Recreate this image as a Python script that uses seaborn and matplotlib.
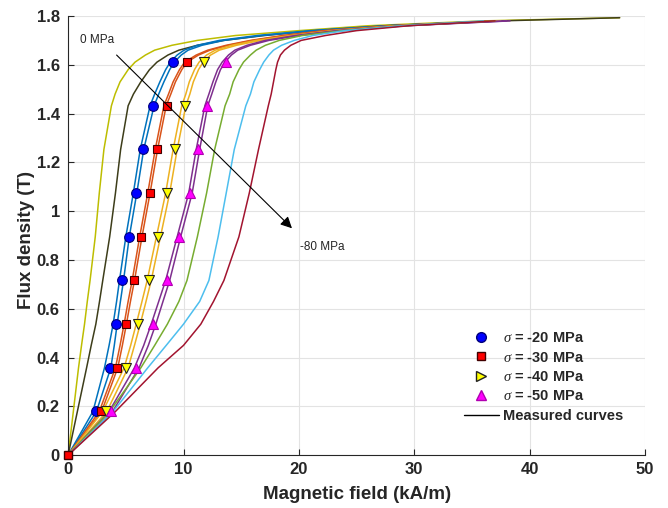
import matplotlib
matplotlib.use("Agg")
import matplotlib.pyplot as plt
import seaborn as sns
import pandas as pd
from matplotlib.lines import Line2D
from matplotlib.ticker import FormatStrFormatter

# ---------------- data ----------------
# flux density grid (T) for the measured curves
B_grid = [0, 0.179, 0.358, 0.45, 0.537, 0.63, 0.716, 0.895, 1.074, 1.253, 1.432, 1.48,
          1.53, 1.58, 1.611, 1.64, 1.66, 1.68, 1.70, 1.72, 1.74, 1.76, 1.78]
B_grid_long = B_grid + [1.793]

# magnetic field (kA/m) of the measured curves, 0 MPa ... -80 MPa
H_0MPa = [0, 0.45, 0.9, 1.16, 1.42, 1.66, 1.9, 2.35, 2.7, 3.1, 3.75, 4.07, 4.5, 5.2,
          5.8, 6.7, 7.5, 9.0, 11.2, 14.5, 20, 26, 36, 47.8]
H_m10 = [0, 0.8, 1.6, 2.0, 2.4, 2.72, 3.0, 3.6, 4.1, 4.55, 5.2, 5.66, 6.3, 7.05,
         7.7, 8.65, 9.6, 11.2, 13.5, 17, 21.5, 27.5, 37.5, 47.8]
H_m20a = [0, 2.15, 3.15, 3.55, 3.9, 4.2, 4.45, 5.0, 5.65, 6.25, 7.1, 7.5, 7.95, 8.45,
          8.85, 9.45, 10.05, 11.2, 13.1, 16.4, 21, 27.5, 37]
H_m20b = [0, 2.45, 3.7, 4.0, 4.25, 4.53, 4.8, 5.3, 5.95, 6.55, 7.45, 7.85, 8.3, 8.8,
          9.2, 9.8, 10.4, 11.6, 13.5, 16.8, 21.5, 28, 37.5]
H_m30a = [0, 2.7, 4.1, 4.5, 4.85, 5.2, 5.55, 6.2, 6.9, 7.55, 8.3, 8.7, 9.1, 9.65,
          10.1, 11.1, 12.1, 13.7, 15.8, 18.6, 22.2, 28, 37]
H_m30b = [0, 2.9, 4.3, 4.7, 5.05, 5.4, 5.75, 6.4, 7.1, 7.75, 8.5, 8.9, 9.3, 9.85,
          10.3, 11.3, 12.3, 13.9, 16.0, 18.8, 22.5, 28.3, 37.3]
H_m40a = [0, 3.0, 4.85, 5.42, 5.9, 6.4, 6.85, 7.65, 8.45, 9.1, 9.85, 10.2, 10.5, 10.95,
          11.35, 12.0, 12.75, 14.2, 16.3, 19.3, 23.0, 28.5, 37]
H_m40b = [0, 3.35, 5.2, 5.75, 6.25, 6.75, 7.2, 8.0, 8.8, 9.45, 10.2, 10.55, 10.85, 11.3,
          11.7, 12.35, 13.1, 14.6, 16.7, 19.6, 23.2, 28.8, 37.5]
H_m50a = [0, 3.55, 5.75, 6.55, 7.2, 7.85, 8.45, 9.45, 10.45, 11.1, 11.85, 12.2, 12.55, 12.95,
          13.35, 13.9, 14.45, 15.5, 17.1, 19.7, 23.3, 29, 38]
H_m50b = [0, 3.85, 6.15, 6.95, 7.6, 8.22, 8.8, 9.75, 10.75, 11.4, 12.1, 12.45, 12.8, 13.2,
          13.6, 14.15, 14.7, 15.8, 17.4, 20.0, 23.6, 29.3, 38.3]
H_m60 = [0, 3.6, 6.3, 7.5, 8.6, 9.6, 10.3, 11.2, 12.0, 12.7, 13.6, 14.0, 14.3, 14.8,
         15.2, 15.8, 16.3, 17.1, 18.3, 20.3, 23.8, 29, 37]
H_m70 = [0, 3.9, 6.9, 8.5, 10.0, 11.4, 12.2, 13.0, 13.7, 14.4, 15.4, 15.8, 16.1, 16.6,
         16.95, 17.4, 17.8, 18.5, 19.6, 21.2, 24, 29, 36]
H_m80 = [0, 4.1, 7.8, 10.0, 11.5, 12.6, 13.5, 14.8, 15.7, 16.5, 17.35, 17.6, 17.8, 18.0,
         18.15, 18.4, 18.75, 19.3, 20.2, 22.3, 25.0, 29.5, 37]

# model points (markers)
B_mark = [0.179, 0.358, 0.537, 0.716, 0.895, 1.074, 1.253, 1.432, 1.611]
H_s20 = [2.43, 3.65, 4.17, 4.70, 5.24, 5.91, 6.50, 7.39, 9.13]
H_s30 = [2.84, 4.23, 4.99, 5.71, 6.35, 7.07, 7.71, 8.55, 10.29]
H_s40 = [3.25, 4.99, 6.03, 7.01, 7.80, 8.61, 9.28, 10.14, 11.80]
H_s50 = [3.68, 5.91, 7.36, 8.58, 9.59, 10.58, 11.25, 12.06, 13.65]

legend_labels = [r"$\sigma$ = -20 MPa", r"$\sigma$ = -30 MPa",
                 r"$\sigma$ = -40 MPa", r"$\sigma$ = -50 MPa", "Measured curves"]
x_ticks = [0, 10, 20, 30, 40, 50]
y_ticks = [0, 0.2, 0.4, 0.6, 0.8, 1.0, 1.2, 1.4, 1.6, 1.8]

# ---------------- style ----------------
sns.set_theme(style="whitegrid")
plt.rcParams['font.family'] = ['Liberation Sans', 'DejaVu Sans']
plt.rcParams['mathtext.fontset'] = 'custom'
plt.rcParams['mathtext.it'] = 'Liberation Serif:italic'

fig = plt.figure(figsize=(6.68, 5.08), dpi=100)
ax = fig.add_axes([0.102, 0.104, 0.8636, 0.8645])

curves = [
    (H_0MPa, B_grid_long, "#BDBD00"),
    (H_m10, B_grid_long, "#3D3D1A"),
    (H_m20a, B_grid, "#0072BD"),
    (H_m20b, B_grid, "#0072BD"),
    (H_m30a, B_grid, "#D95319"),
    (H_m30b, B_grid, "#D95319"),
    (H_m40a, B_grid, "#EDB120"),
    (H_m40b, B_grid, "#EDB120"),
    (H_m50a, B_grid, "#7E2F8E"),
    (H_m50b, B_grid, "#7E2F8E"),
    (H_m60, B_grid, "#77AC30"),
    (H_m70, B_grid, "#4DBEEE"),
    (H_m80, B_grid, "#A2142F"),
]
for H, B, c in curves:
    df = pd.DataFrame({"H": H, "B": B})
    sns.lineplot(data=df, x="H", y="B", ax=ax, color=c, lw=1.1,
                 sort=False, estimator=None)

markers = [
    (H_s20, "o", "#0000FF", "#00007A", 7),
    (H_s30, "s", "#FF0000", "#400000", 6),
    (H_s40, "v", "#FFFF00", "#222222", 7.5),
    (H_s50, "^", "#FF00FF", "#B000B0", 7.5),
]
for H, m, fc, ec, ms in markers:
    df = pd.DataFrame({"H": H, "B": B_mark})
    ax.plot(df["H"], df["B"], linestyle="none", marker=m, markersize=ms,
            markerfacecolor=fc, markeredgecolor=ec, markeredgewidth=0.8, zorder=4)
# origin point
ax.plot([0], [0], linestyle="none", marker="s", markersize=6,
        markerfacecolor="#FF0000", markeredgecolor="#400000", zorder=5, clip_on=False)

# annotation arrow
ax.annotate("", xy=(19.4, 0.93), xytext=(4.2, 1.64),
            arrowprops=dict(arrowstyle="-|>", color="black", lw=0.8,
                            mutation_scale=17, shrinkA=0, shrinkB=0), zorder=6)
ax.text(1.0, 1.70, "0 MPa", fontsize=8.5, ha="left", va="center")
ax.text(20.1, 0.855, "-80 MPa", fontsize=8.5, ha="left", va="center")

ax.set_xlim(0, 50)
ax.set_ylim(0, 1.8)
ax.set_xticks(x_ticks)
ax.set_yticks(y_ticks)
ax.yaxis.set_major_formatter(FormatStrFormatter('%g'))
ax.set_xlabel("Magnetic field (kA/m)", fontsize=13.5, fontweight="bold")
ax.set_ylabel("Flux density (T)", fontsize=13.5, fontweight="bold")
ax.xaxis.set_label_coords(0.5, -0.071)
ax.yaxis.set_label_coords(-0.057, 0.49)
for lab in ax.get_xticklabels() + ax.get_yticklabels():
    lab.set_fontweight("bold")
    lab.set_fontsize(12)
ax.tick_params(axis="both", direction="in", length=4, width=0.8, colors="#262626",
               pad=6, left=True, bottom=True)
ax.tick_params(axis="x", pad=5)
ax.grid(True, color="#E3E3E3", lw=0.8)
for s in ["top", "right"]:
    ax.spines[s].set_visible(False)
for s in ["left", "bottom"]:
    ax.spines[s].set_color("#262626")
    ax.spines[s].set_linewidth(0.8)
ax.set_facecolor("white")

handles = [
    Line2D([], [], linestyle="none", marker="o", markersize=7, markerfacecolor="#0000FF",
           markeredgecolor="#00007A"),
    Line2D([], [], linestyle="none", marker="s", markersize=6, markerfacecolor="#FF0000",
           markeredgecolor="#400000"),
    Line2D([], [], linestyle="none", marker=">", markersize=7, markerfacecolor="#FFFF00",
           markeredgecolor="#222222"),
    Line2D([], [], linestyle="none", marker="^", markersize=7, markerfacecolor="#FF00FF",
           markeredgecolor="#B000B0"),
    Line2D([], [], color="black", lw=1.0),
]
leg = ax.legend(handles, legend_labels, loc="lower right", bbox_to_anchor=(0.985, 0.044),
                frameon=False, handlelength=2.4, labelspacing=0.37,
                prop={"weight": "bold", "size": 10.5}, handletextpad=0.3)

fig.savefig("out.png", dpi=100, facecolor="white")
